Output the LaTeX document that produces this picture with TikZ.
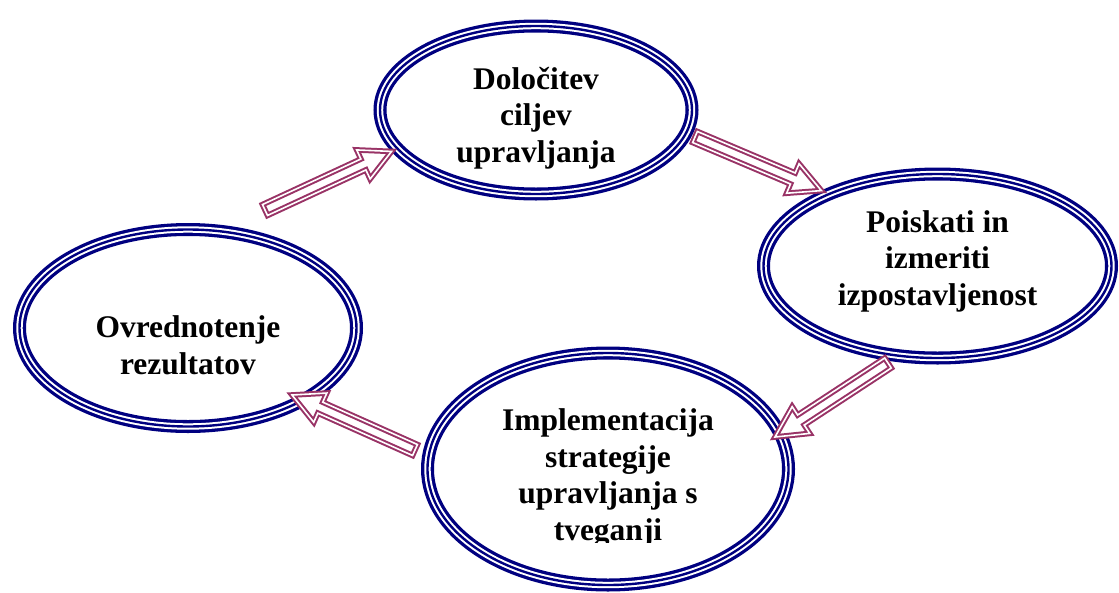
\documentclass[tikz,border=0pt]{standalone}
\usepackage{fontspec}
\setmainfont{Liberation Serif}
\usetikzlibrary{shapes.geometric,calc}
\definecolor{ringblue}{RGB}{0,0,128}
\definecolor{arrowplum}{RGB}{153,51,102}

\begin{document}
\begin{tikzpicture}
  [x=1pt,y=-1pt,
  ringdecorate/.style={shape=ellipse,inner sep=0pt,outer sep=6.5pt,
    preaction={fill=white,draw=ringblue,line width=13pt},
    draw=white,line width=6.4pt,
    postaction={draw=ringblue,line width=2.4pt}},
  textdecorate/.style={align=center,anchor=base,inner sep=0pt,
    font=\fontsize{31.5}{36.5}\selectfont\bfseries},
  arrowdecorate/.style={draw=arrowplum,fill=white,line width=2pt,
    double=white,double distance=1.6pt,line join=miter,
    to path={($(\tikztostart)!6pt!90:(\tikztotarget)$)
      -- ($(\tikztotarget)!31pt!(\tikztostart)!6pt!90:(\tikztotarget)$)
      -- ($(\tikztotarget)!31pt!(\tikztostart)!16pt!90:(\tikztotarget)$)
      -- (\tikztotarget)
      -- ($(\tikztotarget)!31pt!(\tikztostart)!16pt!-90:(\tikztotarget)$)
      -- ($(\tikztotarget)!31pt!(\tikztostart)!6pt!-90:(\tikztotarget)$)
      -- ($(\tikztostart)!6pt!-90:(\tikztotarget)$) -- cycle}}]
  \useasboundingbox (0,0) rectangle (1119,592);
  %% ellipses
  \foreach \nodename/\x/\y/\w/\h in {cil/536/110/312/168,
    izp/937.5/266/348/184, imp/608/469/361/232, ovr/188/328/337/197}
  {
    \node (\nodename) at (\x,\y) [ringdecorate,minimum width=\w,minimum height=\h] {};
  }
  %% arrow ends
  \coordinate (a1) at (265,210);
  \coordinate (a2) at (695,137);
  \coordinate (a3) at (888,363);
  \coordinate (b3) at (775,437);
  \coordinate (a4) at (415,450);
  \coordinate (b4) at (292,395);
  %% arrows
  \path
  \foreach \startnode/\endnode in {a1/cil.196, a2/izp.147, a3/b3, a4/b4}
  {
    (\startnode) edge[arrowdecorate] (\endnode)
  };
  %% labels (last line sits on the base)
  \begin{scope}
    \clip (0,0) rectangle (1119,542);
    \foreach \nodename/\dy/\txt in {cil/52/{Določitev\\ciljev\\upravljanja},
      izp/39/{Poiskati in\\izmeriti\\izpostavljenost},
      imp/71/{Implementacija\\strategije\\upravljanja s\\tveganji},
      ovr/46/{Ovrednotenje\\rezultatov}}
    {
      \node (\nodename-t) at ($(\nodename)+(0,\dy)$) [textdecorate] {\txt};
    }
  \end{scope}
\end{tikzpicture}
\end{document}
